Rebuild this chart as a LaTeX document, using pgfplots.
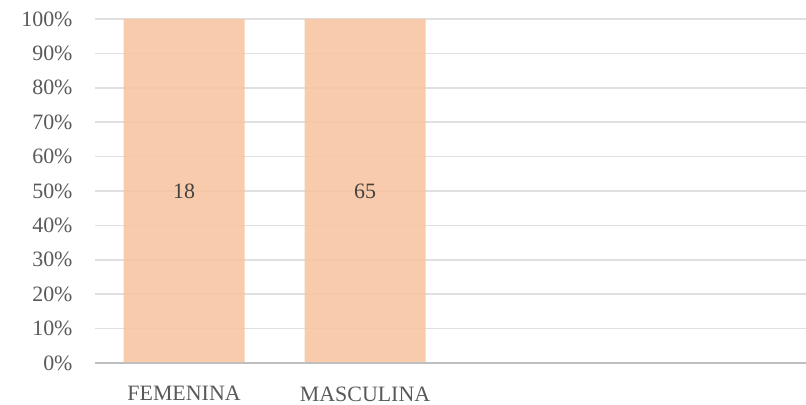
\documentclass[border=0pt]{standalone}
\usepackage{fontspec}
\setmainfont{Liberation Serif}
\usepackage{pgfplots}
\pgfplotsset{compat=1.18}
\definecolor{barc}{HTML}{F7C5A4}
\definecolor{txt}{HTML}{595959}
\begin{document}
\begin{tikzpicture}
\begin{axis}[
  scale only axis,
  width=711bp, height=344bp,
  ybar stacked,
  bar width=121bp,
  xmin=-0.492, xmax=3.436,
  ymin=0, ymax=100,
  xtick={0,1}, xticklabels={FEMENINA,MASCULINA},
  ytick={0,10,...,100},
  yticklabel={\pgfmathprintnumber{\tick}\%},
  /pgf/number format/assume math mode=true,
  ymajorgrids,
  grid style={draw=black, draw opacity=0.12, line width=1.5bp},
  axis line style={draw=none},
  x axis line style={draw=none},
  major tick length=0pt,
  tick label style={font=\fontsize{22}{25}\selectfont, text=txt},
  yticklabel style={xshift=-19bp},
  xticklabel style={yshift=-20bp},
  clip=false,
  point meta=explicit symbolic,
  nodes near coords,
  every node near coord/.style={anchor=center, font=\fontsize{22}{25}\selectfont, text=black!80},
]
\addplot[fill=barc, fill opacity=0.9, draw=none] table[meta=n] {
x y n
0 100 18
1 100 65
};
\end{axis}
\draw[color=black!25, line width=1.5bp] (current axis.south west) -- (current axis.south east);
\pgfresetboundingbox
\path ([shift={(-95bp,-42bp)}]current axis.south west) rectangle ([shift={(0bp,19bp)}]current axis.north east);
\end{tikzpicture}
\end{document}
